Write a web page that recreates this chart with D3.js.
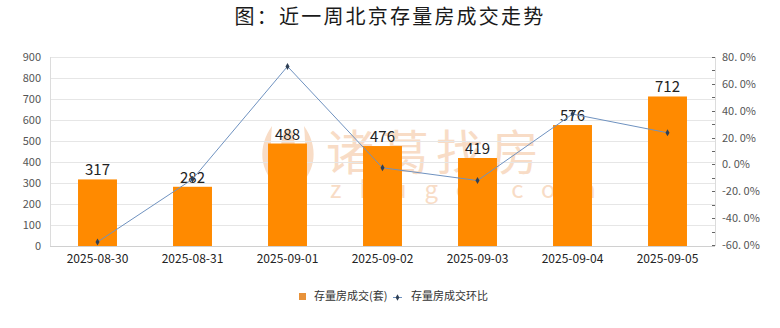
<!DOCTYPE html>
<html><head><meta charset="utf-8">
<script src="https://cdn.jsdelivr.net/npm/d3@7"></script>
<style>body{margin:0;background:#fff}svg{display:block}text{font-family:"Noto Sans CJK SC","Noto Sans",sans-serif}</style>
</head><body><svg id="c" width="780" height="328"></svg>
<script>
const categories = ["2025-08-30","2025-08-31","2025-09-01","2025-09-02","2025-09-03","2025-09-04","2025-09-05"];
const volume = [317, 282, 488, 476, 419, 576, 712];
const ratio = [-57.8, -11.0, 73.0, -2.5, -12.0, 37.5, 23.6];
const leftTicks = [0,100,200,300,400,500,600,700,800,900];
const rightTicks = [-60,-40,-20,0,20,40,60,80];
const title = "图：近一周北京存量房成交走势";
const seriesNames = ["存量房成交(套)", "存量房成交环比"];

const svg = d3.select("#c");
const L = 50, R = 715, T = 57, B = 246;
const x = d3.scaleBand().domain(categories).range([L, R]).paddingInner(0.59).paddingOuter(0.295);
const y = d3.scaleLinear().domain([0, 900]).range([B, T]);
const y2 = d3.scaleLinear().domain([-60, 80]).range([B - 1, T]);

svg.append("text").attr("x", 390).attr("y", 24).attr("text-anchor", "middle")
  .attr("font-size", 20).attr("letter-spacing", 2.2).attr("fill", "#1a1a1a").text(title);

// watermark
const wm = svg.append("g").attr("fill", "#f8dcc6");
wm.append("text").attr("x", 326).attr("y", 170).attr("font-size", 48).attr("letter-spacing", 7).text("诸葛找房");
wm.append("text").attr("x", 330).attr("y", 198).attr("font-size", 24).attr("letter-spacing", 18).text("zhuge.com");
wm.append("path").attr("d", "M272,126 C258,145 258,172 280,188 C270,170 270,146 272,126 Z");
wm.append("path").attr("d", "M304,126 C318,145 318,172 296,188 C306,170 306,146 304,126 Z");
wm.append("ellipse").attr("cx", 288).attr("cy", 150).attr("rx", 7).attr("ry", 22);

// grid
svg.append("g").selectAll("line").data(leftTicks.slice(1)).join("line")
  .attr("x1", L).attr("x2", R).attr("y1", d => Math.round(y(d)) + 0.5).attr("y2", d => Math.round(y(d)) + 0.5)
  .attr("stroke", "#e6e6e6");
svg.append("line").attr("x1", L + 0.5).attr("x2", L + 0.5).attr("y1", T).attr("y2", B).attr("stroke", "#dcdcdc");
svg.append("line").attr("x1", R + 0.5).attr("x2", R + 0.5).attr("y1", T).attr("y2", B).attr("stroke", "#dcdcdc");

// left labels
svg.append("g").selectAll("text").data(leftTicks).join("text")
  .attr("x", 41).attr("y", d => y(d) + 4).attr("text-anchor", "end")
  .attr("font-size", 11).attr("fill", "#555").text(d => d);

// right ticks
const minor = d3.range(-50, 80, 20);
svg.append("g").selectAll("line").data(rightTicks.concat(minor)).join("line")
  .attr("x1", R - 3).attr("x2", R).attr("y1", d => Math.round(y2(d)) + 0.5).attr("y2", d => Math.round(y2(d)) + 0.5)
  .attr("stroke", "#666");
svg.append("g").selectAll("text").data(rightTicks).join("text")
  .attr("x", 722).attr("y", d => y2(d) + 4).attr("font-size", 11).attr("fill", "#555")
  .text(d => d3.format(".1f")(d).replace("−", "-").replace(".", ". ") + "%");

// bars
svg.append("g").selectAll("rect").data(volume).join("rect")
  .attr("x", (d, i) => x(categories[i])).attr("width", x.bandwidth())
  .attr("y", d => y(d)).attr("height", d => B - y(d)).attr("fill", "#ff8a00");
svg.append("g").selectAll("text").data(volume).join("text")
  .attr("x", (d, i) => x(categories[i]) + x.bandwidth() / 2).attr("y", d => y(d) - 4)
  .attr("text-anchor", "middle").attr("font-size", 15).attr("fill", "#222").text(d => d);

// bottom axis
svg.append("line").attr("x1", L).attr("x2", R).attr("y1", B + 0.5).attr("y2", B + 0.5).attr("stroke", "#d0d0d0");
svg.append("g").selectAll("text").data(categories).join("text")
  .attr("x", d => x(d) + x.bandwidth() / 2).attr("y", 263).attr("text-anchor", "middle")
  .attr("font-size", 12).attr("fill", "#222").text(d => d);

// line
const cx = i => x(categories[i]) + x.bandwidth() / 2;
svg.append("path").datum(ratio).attr("fill", "none").attr("stroke", "#6f92c0").attr("stroke-width", 1)
  .attr("d", d3.line().x((d, i) => cx(i)).y(d => y2(d)));
svg.append("g").selectAll("path").data(ratio).join("path")
  .attr("d", d3.symbol().type(d3.symbolDiamond).size(14))
  .attr("transform", (d, i) => `translate(${cx(i)},${y2(d)})`).attr("fill", "#2e3f55");

// legend
svg.append("rect").attr("x", 299).attr("y", 293).attr("width", 7).attr("height", 7).attr("fill", "#e8923a");
svg.append("text").attr("x", 314).attr("y", 300).attr("font-size", 11).attr("fill", "#333").text(seriesNames[0]);
svg.append("line").attr("x1", 393).attr("x2", 402).attr("y1", 297.5).attr("y2", 297.5).attr("stroke", "#6f92c0");
svg.append("path").attr("d", d3.symbol().type(d3.symbolDiamond).size(12)).attr("transform", "translate(397.5,297.5)").attr("fill", "#2e3f55");
svg.append("text").attr("x", 411).attr("y", 300).attr("font-size", 11).attr("fill", "#333").text(seriesNames[1]);
</script></body></html>
